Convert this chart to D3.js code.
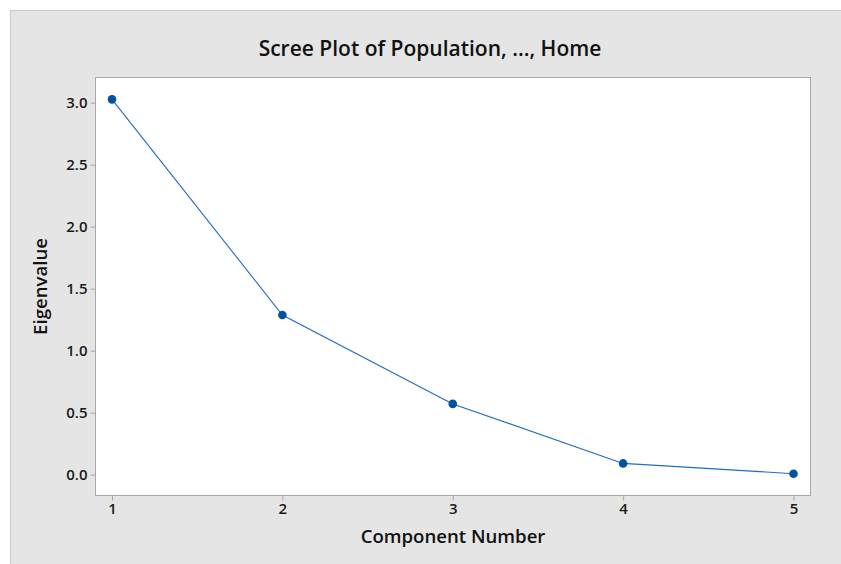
<!DOCTYPE html>
<html><head><meta charset="utf-8">
<script src="https://cdn.jsdelivr.net/npm/d3@7"></script>
<style>body{margin:0;background:#fff}svg{display:block}</style>
</head><body><svg id="c" width="841" height="564"></svg>
<script>
const components = [1, 2, 3, 4, 5];
const eigenvalues = [3.027, 1.288, 0.571, 0.091, 0.008];
const yTicks = [0.0, 0.5, 1.0, 1.5, 2.0, 2.5, 3.0];
const titleText = "Scree Plot of Population, ..., Home";
const xLabel = "Component Number";
const yLabel = "Eigenvalue";

const svg = d3.select("#c");
const font = "'Open Sans', 'Noto Sans', sans-serif";
const plot = {l: 95.5, t: 77.5, r: 810.5, b: 495.5};

svg.append("rect").attr("x", 10.5).attr("y", 10.5).attr("width", 860).attr("height", 600)
  .attr("fill", "#e5e5e5").attr("stroke", "#cbcbcb").attr("stroke-width", 1);

svg.append("rect").attr("x", plot.l).attr("y", plot.t).attr("width", plot.r - plot.l).attr("height", plot.b - plot.t)
  .attr("fill", "#fff").attr("stroke", "#a8a8a8").attr("stroke-width", 1);

const x = d3.scaleLinear().domain([1, 5]).range([112, 793.5]);
const y = d3.scaleLinear().domain([0, 3]).range([474.7, 102.7]);

const xa = svg.append("g").attr("transform", `translate(0,${plot.b})`)
  .call(d3.axisBottom(x).tickValues(components).tickFormat(d3.format("d")).tickSize(5).tickPadding(3));
const ya = svg.append("g").attr("transform", `translate(${plot.l},0)`)
  .call(d3.axisLeft(y).tickValues(yTicks).tickFormat(d3.format(".1f")).tickSize(5).tickPadding(3));
[xa, ya].forEach(g => {
  g.select(".domain").remove();
  g.selectAll(".tick line").attr("stroke", "#a8a8a8");
  g.selectAll(".tick text").attr("fill", "#1a1a1a").style("font-family", font).style("font-size", "15px").style("font-weight", 600);
});

const line = d3.line().x((d, i) => x(components[i])).y(d => y(d));
svg.append("path").datum(eigenvalues).attr("d", line).attr("fill", "none")
  .attr("stroke", "#1f6cc0").attr("stroke-width", 1.1);
svg.selectAll("circle.pt").data(eigenvalues).enter().append("circle").attr("class", "pt")
  .attr("cx", (d, i) => x(components[i])).attr("cy", d => y(d)).attr("r", 4.3).attr("fill", "#0052a5");

svg.append("text").attr("x", 430).attr("y", 56).attr("text-anchor", "middle")
  .style("font-family", font).style("font-size", "21px").style("font-weight", 600).attr("fill", "#111").text(titleText);
svg.append("text").attr("x", (plot.l + plot.r) / 2).attr("y", 543).attr("text-anchor", "middle")
  .style("font-family", font).style("font-size", "18.6px").style("font-weight", 600).attr("fill", "#111").text(xLabel);
svg.append("text").attr("transform", `translate(47,${(plot.t + plot.b) / 2}) rotate(-90)`).attr("text-anchor", "middle")
  .style("font-family", font).style("font-size", "18.6px").style("font-weight", 600).attr("fill", "#111").text(yLabel);
</script></body></html>
